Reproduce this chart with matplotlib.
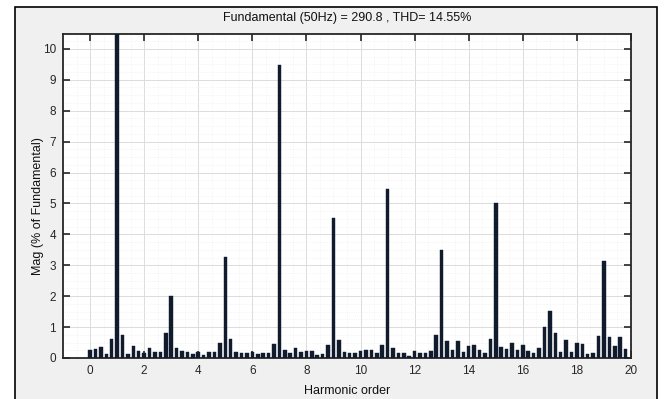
import matplotlib
matplotlib.use("Agg")
import matplotlib.pyplot as plt
from matplotlib.patches import Rectangle
from matplotlib.ticker import MultipleLocator

title_text = "Fundamental (50Hz) = 290.8 , THD= 14.55%"
xlabel_text = "Harmonic order"
ylabel_text = "Mag (% of Fundamental)"

harmonic_order = [i / 5 for i in range(100)]
magnitude = [
    0.26, 0.28, 0.35, 0.13, 0.63,
    100.0, 0.76, 0.13, 0.40, 0.24,
    0.15, 0.31, 0.18, 0.21, 0.80,
    2.02, 0.31, 0.24, 0.19, 0.12,
    0.20, 0.11, 0.18, 0.19, 0.50,
    3.26, 0.63, 0.20, 0.16, 0.15,
    0.18, 0.13, 0.15, 0.15, 0.45,
    9.48, 0.26, 0.15, 0.31, 0.20,
    0.22, 0.24, 0.10, 0.13, 0.42,
    4.52, 0.58, 0.20, 0.17, 0.17,
    0.24, 0.26, 0.26, 0.15, 0.41,
    5.48, 0.31, 0.15, 0.17, 0.06,
    0.24, 0.17, 0.15, 0.22, 0.75,
    3.48, 0.54, 0.26, 0.54, 0.19,
    0.39, 0.41, 0.26, 0.15, 0.61,
    5.00, 0.34, 0.30, 0.49, 0.26,
    0.41, 0.23, 0.17, 0.33, 0.99,
    1.52, 0.82, 0.18, 0.58, 0.18,
    0.47, 0.44, 0.13, 0.15, 0.71,
    3.13, 0.69, 0.39, 0.67, 0.28,
]
xticks = [0, 2, 4, 6, 8, 10, 12, 14, 16, 18, 20]
yticks = [0, 1, 2, 3, 4, 5, 6, 7, 8, 9, 10]

font = ['Liberation Sans Narrow', 'Liberation Sans', 'DejaVu Sans']
plt.rcParams['font.family'] = font

W, H = 667, 399
fig = plt.figure(figsize=(W / 100, H / 100), dpi=100, facecolor='white')
fig.patches.append(Rectangle((15 / W, -0.01), (657 - 15) / W, (H - 7) / H + 0.01,
                             transform=fig.transFigure, facecolor='#f0f0f0',
                             edgecolor='black', linewidth=1.2, zorder=-10))

ax = fig.add_axes([63 / W, 1 - 358 / H, (631 - 63) / W, (358 - 34) / H])
ax.set_zorder(1)
ax.set_facecolor('white')
ax.bar(harmonic_order, magnitude, width=0.13, color='#101b2e', edgecolor='#101b2e',
       linewidth=0.3, zorder=3)
ax.set_xlim(-1, 20)
ax.set_ylim(0, 10.48)
ax.set_xticks(xticks)
ax.set_yticks(yticks)
ax.xaxis.set_minor_locator(MultipleLocator(0.5))
ax.yaxis.set_minor_locator(MultipleLocator(0.25))
ax.grid(True, which='major', color='#dcdcdc', linewidth=0.7, zorder=0)
ax.grid(True, which='minor', color='#ededed', linewidth=0.5, linestyle=':', zorder=0)
ax.set_axisbelow(True)
ax.tick_params(which='major', direction='in', length=5, width=1.2, top=True, right=True,
               labelsize=8.5, colors='#262626', pad=5)
ax.tick_params(which='minor', length=0, top=True, right=True)
for s in ax.spines.values():
    s.set_linewidth(1.3)
    s.set_color('#262626')

ax.set_title(title_text, fontsize=9, pad=9, color='#111111')
ax.set_xlabel(xlabel_text, fontsize=9, color='#111111')
ax.set_ylabel(ylabel_text, fontsize=9, color='#111111')
ax.yaxis.set_label_coords(-0.034, 0.47)
ax.xaxis.set_label_coords(0.5, -0.083)

fig.savefig('out.png', dpi=100, facecolor='white')
